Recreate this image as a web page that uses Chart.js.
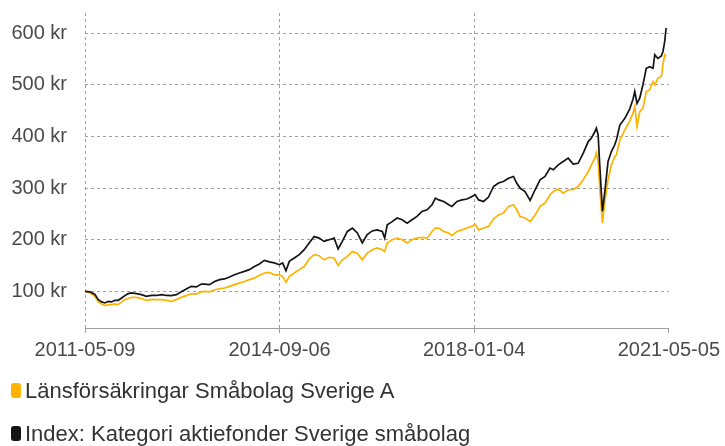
<!DOCTYPE html>
<html lang="sv">
<head>
  <meta charset="UTF-8"/>
  <title>Länsförsäkringar Småbolag Sverige A</title>
  <script src="https://cdn.jsdelivr.net/npm/chart.js@4.4.1/dist/chart.umd.min.js"></script>
  <style>
    body { margin: 0; background: #fff; }
    #wrap { position: relative; width: 725px; height: 446px; }
    #box { position: absolute; left: 0; top: 0; width: 725px; height: 370px; }
    #legend { position: absolute; left: 0; top: 369px; width: 725px; }
    .item { height: 43px; display: flex; align-items: center; padding-left: 11px; white-space: nowrap;
            font: 22px "Liberation Sans", Arial, sans-serif; color: #333; }
    .swatch { width: 10px; height: 15px; border-radius: 3px; margin-right: 4px; flex: none; }
  </style>
</head>
<body>
  <div id="wrap">
    <div id="box"><canvas id="chart"></canvas></div>
    <div id="legend"></div>
  </div>

  <script>
    // dagar efter startdatum
    const startDate = '2011-05-09';
    const dayOffsets = [
      0, 31, 62, 83, 104, 125, 145, 166, 187, 207, 229, 249, 270, 291, 322, 353, 384, 415, 446, 478,
      509, 540, 571, 602, 633, 664, 696, 727,
      747, 778, 810, 841, 872, 903, 934, 965, 996, 1027, 1059, 1090, 1121, 1152, 1183, 1214, 1235, 1256,
      1277, 1308, 1339, 1370, 1401,
      1432, 1463, 1494, 1526, 1557, 1582, 1608, 1640, 1671, 1702, 1733, 1764, 1795, 1826, 1858, 1873,
      1889, 1920, 1951, 1982, 2013, 2044, 2075, 2106, 2138, 2169, 2190,
      2211, 2242, 2273, 2293, 2325, 2356, 2387, 2418, 2439, 2460, 2491, 2522, 2553, 2584, 2615, 2647,
      2678, 2698, 2719, 2750, 2782, 2813, 2844, 2875, 2906, 2927, 2958,
      2989, 3020, 3051, 3082, 3114, 3145, 3165, 3187, 3196, 3207, 3217, 3234, 3249, 3269, 3290, 3311,
      3321, 3343, 3374, 3404, 3425, 3436, 3450, 3467, 3487, 3508, 3529, 3550, 3561, 3581, 3602, 3612,
      3623, 3632
    ];

    const fundValues = [
      100, 97, 90, 79.5, 75.6, 72.3, 74.3, 74.3, 75.6, 74.3, 79.5, 84, 86, 88.4, 88.4, 86, 82.6, 84, 84, 84,
      82.6, 80.7, 84, 88.4, 91.7, 95, 95, 99,
      100, 99, 103, 105, 106.5, 109.7, 113, 116, 119, 122.6, 126, 131, 135.6, 136.8, 132, 132, 129, 117.4,
      129, 135.6, 142, 148, 162.7,
      171, 169, 161, 165.8, 164.6, 150, 161, 167.7, 177, 174, 161, 174, 180.6, 184, 180.6, 177,
      193.6, 200, 203, 200, 193.6, 200, 203, 204.5, 203, 216, 222.6,
      222.6, 216, 213, 207.7, 216, 219, 222.6, 225.7, 230, 219, 222.6, 225.7, 240, 248, 251.6, 264.4,
      267.7, 258, 245, 242, 235, 248, 264.4, 271, 287, 293.4, 298,
      290, 296.7, 296.7, 303, 316, 332, 345, 358, 367.7, 351.4, 300, 232, 274, 316, 345, 361,
      364, 393, 412.7, 429, 445, 458, 419, 448, 454.7, 487, 490, 506, 500, 513, 516, 538,
      558, 555
    ];

    const indexValues = [
      100, 99, 94, 84, 79.5, 77.5, 80.7, 79.5, 82.6, 82.6, 87, 91.7, 95.5, 97, 95.5, 93.6, 90.3, 92, 92, 93.6,
      92, 91.7, 93.6, 99, 104.6, 109.7, 108.5, 114,
      114, 113, 119, 122.6, 124, 127.8, 132, 135.6, 138.7, 142, 148, 153, 160, 157, 155, 151.6, 155, 140,
      158, 164.6, 171, 180.6, 193.6,
      206, 203, 196.7, 200, 203, 182, 196.7, 216, 222.6, 213, 193.6, 209.7, 217, 219, 216, 203,
      229, 235, 242, 238.7, 232, 238.7, 245, 254.7, 258, 267.7, 280.6,
      277, 274, 267.7, 264.4, 274, 277, 278.7, 283.8, 287, 277, 274, 282.6, 303, 309.7, 312.8, 319,
      322.4, 309.7, 300, 293.4, 276, 296.7, 316, 322.4, 338.7, 335.4, 345,
      351.4, 358, 346.4, 348, 367.7, 390, 396.7, 409.5, 416, 403, 345, 254.7, 293.4, 351.4, 370.8, 383.8,
      393, 422, 435, 453, 472, 487, 464, 474, 500, 532, 535, 532, 558, 551, 556, 564,
      583.6, 610
    ];

    const xTickDates = ['2011-05-09', '2014-09-06', '2018-01-04', '2021-05-05'];
    const yTickValues = [100, 200, 300, 400, 500, 600];

    const seriesNames = ['Länsförsäkringar Småbolag Sverige A', 'Index: Kategori aktiefonder Sverige småbolag'];
    const seriesColors = ['#ffb300', '#141414'];

    const DAY = 86400000;
    const t0 = Date.parse(startDate);
    const toOffset = d => Math.round((Date.parse(d) - t0) / DAY);
    const toDate = off => new Date(t0 + off * DAY).toISOString().slice(0, 10);
    const xTicks = xTickDates.map(toOffset);

    const points = vals => dayOffsets.map((d, i) => ({ x: d, y: vals[i] }));

    const grey = '#a0a0a0';
    const tickFont = { family: '"Liberation Sans", Arial, sans-serif', size: 20 };

    const chart = new Chart(document.getElementById('chart'), {
      type: 'line',
      data: {
        datasets: [
          { label: seriesNames[0], data: points(fundValues), borderColor: seriesColors[0],
            backgroundColor: seriesColors[0], borderWidth: 1.7, pointRadius: 0, order: 1 },
          { label: seriesNames[1], data: points(indexValues), borderColor: seriesColors[1],
            backgroundColor: seriesColors[1], borderWidth: 1.7, pointRadius: 0, order: 0 }
        ]
      },
      options: {
        responsive: true,
        maintainAspectRatio: false,
        animation: false,
        layout: { padding: { top: 13, right: 54, left: 0, bottom: 0 } },
        plugins: { legend: { display: false }, tooltip: { enabled: false } },
        scales: {
          x: {
            type: 'linear',
            min: 0,
            max: xTicks[xTicks.length - 1],
            afterBuildTicks: s => { s.ticks = xTicks.map(v => ({ value: v })); },
            afterFit: s => { s.height = 42; },
            ticks: { color: '#4a4a4a', font: tickFont, padding: 5, maxRotation: 0,
                     callback: v => toDate(v) },
            grid: {
              color: c => (c.index === xTicks.length - 1 ? 'rgba(0,0,0,0)' : grey),
              tickColor: grey, tickLength: 5
            },
            border: { display: true, color: grey, width: 1, dash: [3, 3] }
          },
          y: {
            min: 29,
            max: 639,
            afterBuildTicks: s => { s.ticks = yTickValues.map(v => ({ value: v })); },
            afterFit: s => { s.width = 85; },
            ticks: { color: '#4a4a4a', font: tickFont, padding: 0, callback: v => v + ' kr' },
            // osynliga tickmarkeringar ger avståndet till etiketterna
            grid: { color: grey, drawTicks: true, tickLength: 18, tickColor: 'rgba(0,0,0,0)' },
            border: { display: false, dash: [3, 3] }
          }
        }
      }
    });

    // legenden i två rader
    const legend = document.getElementById('legend');
    chart.data.datasets.forEach(ds => {
      const row = document.createElement('div');
      row.className = 'item';
      row.innerHTML = `<span class="swatch" style="background:${ds.borderColor}"></span><span>${ds.label}</span>`;
      legend.appendChild(row);
    });
  </script>
</body>
</html>
